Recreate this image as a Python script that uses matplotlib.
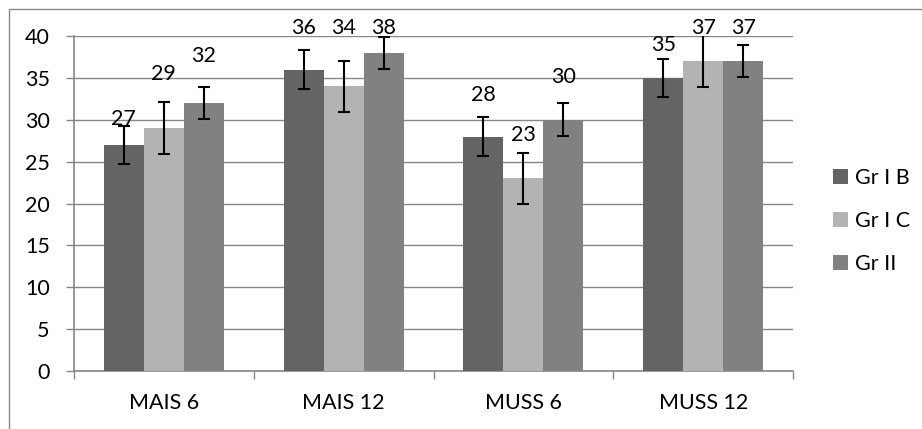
import matplotlib
matplotlib.use('Agg')
import matplotlib.pyplot as plt
import matplotlib.patches as patches
import numpy as np

# chart data
categories = ['MAIS 6', 'MAIS 12', 'MUSS 6', 'MUSS 12']
series_names = ['Gr I B', 'Gr I C', 'Gr II']
gr_ib = [27, 36, 28, 35]
gr_ic = [29, 34, 23, 37]
gr_ii = [32, 38, 30, 37]
err_ib = [2.3, 2.3, 2.35, 2.3]
err_ic = [3.1, 3.05, 3.05, 3.1]
err_ii = [1.9, 1.9, 1.95, 1.95]
y_ticks = [0, 5, 10, 15, 20, 25, 30, 35, 40]

# label placement (how far above the bar value each number sits, in data units)
label_lift = [[3.1, 5.0, 4.9, 3.9],
			  [6.5, 7.0, 5.2, 4.0],
			  [5.6, 3.0, 5.1, 4.0]]

colors = ['#646464', '#b3b3b3', '#818181']
grid_col = '#868686'
FONT = 'Lato'
FS = 15.5

plt.rcParams['font.family'] = [FONT, 'DejaVu Sans']

W, H = 922, 429
fig = plt.figure(figsize=(W / 100, H / 100), dpi=100)
ax = fig.add_axes([74 / W, 1 - 371 / H, (793 - 74) / W, (371 - 36) / H])

values = [gr_ib, gr_ic, gr_ii]
errors = [err_ib, err_ic, err_ii]
x = np.arange(len(categories))
bw = 0.2225

handles = []
for i in range(3):
	pos = x + (i - 1) * bw
	b = ax.bar(pos, values[i], width=bw, color=colors[i], zorder=3, label=series_names[i])
	ax.errorbar(pos, values[i], yerr=errors[i], fmt='none', ecolor='black',
				elinewidth=1.5, capsize=4, capthick=1.5, zorder=4)
	handles.append(b)
	for j in range(len(categories)):
		ax.text(pos[j], values[i][j] + label_lift[i][j], str(values[i][j]),
				ha='center', va='center', fontsize=FS, color='black', zorder=5)

ax.set_xlim(-0.5, len(categories) - 0.5)
ax.set_ylim(0, 40)
ax.set_yticks(y_ticks)
ax.yaxis.grid(True, color=grid_col, linewidth=1.0, zorder=0)
ax.set_axisbelow(True)

ax.set_xticks(x)
ax.set_xticklabels(categories)
ax.set_xticks(np.arange(-0.5, len(categories)), minor=True)
ax.tick_params(axis='x', which='major', length=0, pad=16, labelsize=FS)
ax.tick_params(axis='x', which='minor', length=5.5, width=1.0, color=grid_col, direction='out')
ax.tick_params(axis='y', length=5.5, width=1.0, color=grid_col, pad=12, labelsize=FS)

for s in ['top', 'right']:
	ax.spines[s].set_visible(False)
for s in ['left', 'bottom']:
	ax.spines[s].set_color(grid_col)
	ax.spines[s].set_linewidth(1.2)

fig.legend(handles=handles, loc='center left', bbox_to_anchor=(833 / W, 1 - 221 / H),
		   frameon=False, fontsize=FS, handlelength=0.7, handleheight=0.7,
		   handletextpad=0.3, labelspacing=1.05, borderpad=0, borderaxespad=0)

# outer chart frame (cropped on right and bottom)
frame = patches.Rectangle((8.5 / W, -0.2), 1.2, 1.2 - 8.5 / H, transform=fig.transFigure,
						  fill=False, edgecolor='#888888', linewidth=1.0, clip_on=False)
fig.patches.append(frame)

fig.savefig('out.png', dpi=100)
